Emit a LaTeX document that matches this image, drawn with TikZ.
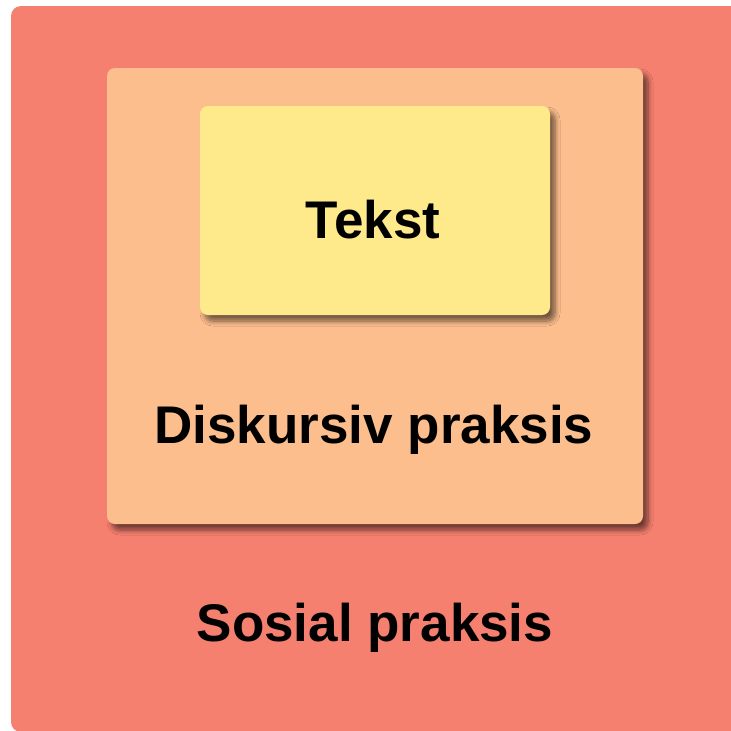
\documentclass[tikz,border=0pt]{standalone}
\usepackage{fontspec}
\setmainfont{Liberation Sans}
\usetikzlibrary{shadows.blur}
\definecolor{sosialred}{HTML}{F5806F}
\definecolor{diskpeach}{HTML}{FDBE8E}
\definecolor{tekstyellow}{HTML}{FEE98B}
\begin{document}
\begin{tikzpicture}[x=1pt,y=-1pt,
  layer/.style={rounded corners=8pt, inner sep=0pt, outer sep=0pt},
  shade/.style={blur shadow={shadow xshift=5pt, shadow yshift=-6pt, shadow blur steps=8, shadow blur radius=5pt, shadow opacity=55}},
  lbl/.style={anchor=base, font=\fontsize{53}{60}\selectfont\bfseries}]
\useasboundingbox (0,0) rectangle (731,731);
\fill[white] (0,0) rectangle (731,731);
\node[layer, rounded corners=10pt, fill=sosialred, minimum width=734pt, minimum height=726pt] (sosial) at (378,369) {};
\node[layer, shade, fill=diskpeach, minimum width=536pt, minimum height=456pt] (diskursiv) at (375,296) {};
\node[layer, shade, fill=tekstyellow, minimum width=350pt, minimum height=209pt] (tekst) at (375,210.5) {};
\node[lbl] (tekstlbl) at (373,238) {Tekst};
\node[lbl] (disklbl) at (374,443) {Diskursiv praksis};
\node[lbl] (sosiallbl) at (375,641) {Sosial praksis};
\end{tikzpicture}
\end{document}
